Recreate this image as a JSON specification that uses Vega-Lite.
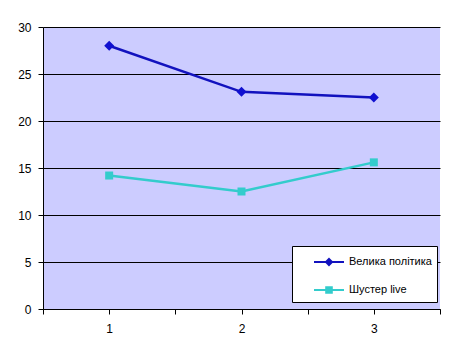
{
  "$schema": "https://vega.github.io/schema/vega-lite/v6.json",
  "width": 397,
  "height": 282,
  "autosize": {"type": "none"},
  "padding": {"left": 43, "top": 27, "right": 15, "bottom": 46},
  "background": "white",
  "config": {"view": {"fill": "#CCCCFF", "stroke": null}, "font": "Liberation Sans"},
  "data": {"values": [
    {"x": 1, "series": "Велика політика", "value": 28.0},
    {"x": 2, "series": "Велика політика", "value": 23.1},
    {"x": 3, "series": "Велика політика", "value": 22.5},
    {"x": 1, "series": "Шустер live", "value": 14.2},
    {"x": 2, "series": "Шустер live", "value": 12.5},
    {"x": 3, "series": "Шустер live", "value": 15.6}
  ]},
  "encoding": {
    "x": {
      "field": "x", "type": "quantitative",
      "scale": {"domain": [0.5, 3.5], "nice": false, "zero": false},
      "axis": {
        "title": null, "grid": false,
        "values": [0.5, 1, 1.5, 2, 2.5, 3, 3.5],
        "labelExpr": "datum.value % 1 === 0 ? '' + datum.value : ''",
        "labelFlush": false, "labelOverlap": false,
        "domainColor": "black", "tickColor": "black", "tickSize": 5,
        "labelFontSize": 12, "labelColor": "black", "labelPadding": 9,
        "encode": {"ticks": {"update": {"opacity": {"signal": "datum.value % 1 === 0 ? 0 : 1"}}}}
      }
    },
    "y": {
      "field": "value", "type": "quantitative",
      "scale": {"domain": [0, 30], "nice": false},
      "axis": {
        "title": null, "values": [0, 5, 10, 15, 20, 25, 30],
        "grid": true, "gridColor": "black", "gridOpacity": 1, "gridWidth": 1,
        "domainColor": "black", "tickColor": "black", "tickSize": 5,
        "labelFontSize": 12, "labelColor": "black", "labelPadding": 7,
        "encode": {"grid": {"update": {"opacity": {"signal": "datum.value === 30 ? 0 : 1"}}}}
      }
    }
  },
  "layer": [
    {
      "mark": {"type": "line", "strokeWidth": 2.5},
      "encoding": {
        "color": {
          "field": "series", "type": "nominal",
          "sort": ["Велика політика", "Шустер live"],
          "scale": {"domain": ["Велика політика", "Шустер live"], "range": ["#1212BE", "#33CCCC"]},
          "legend": {
            "title": null, "orient": "none", "legendX": 249, "legendY": 219,
            "fillColor": "white", "strokeColor": "black", "padding": 5,
            "symbolSize": 400, "symbolStrokeWidth": 2, "rowPadding": 10,
            "symbolOffset": 21, "labelOffset": 9, "labelFontSize": 11, "labelColor": "black",
            "encode": {"symbols": {"update": {
              "fill": {"scale": "color", "field": "value"},
              "stroke": {"scale": "color", "field": "value"},
              "shape": {"signal": "datum.index === 0 ? 'M-1.5,0H1.5M0,-0.3L0.3,0L0,0.3L-0.3,0Z' : 'M-1.5,0H1.5M-0.28,-0.28H0.28V0.28H-0.28Z'"}
            }}}
          }
        }
      }
    },
    {
      "mark": {"type": "point", "filled": true, "opacity": 1, "strokeWidth": 0},
      "encoding": {
        "fill": {"field": "series", "type": "nominal", "scale": {"domain": ["Велика політика", "Шустер live"], "range": ["#1010D0", "#33CCCC"]}, "legend": null},
        "shape": {"condition": {"test": "datum.series === 'Велика політика'", "value": "diamond"}, "value": "square"},
        "size": {"condition": {"test": "datum.series === 'Велика політика'", "value": 100}, "value": 64}
      }
    }
  ]
}
